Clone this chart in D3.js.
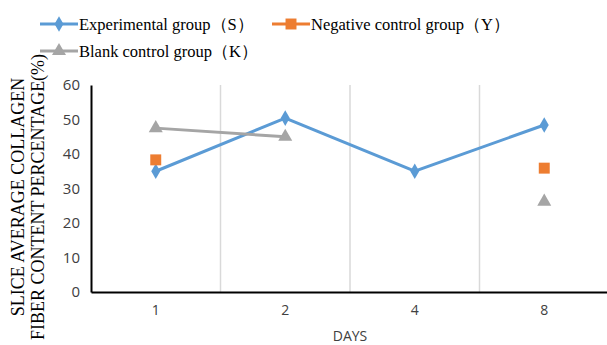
<!DOCTYPE html>
<html>
<head>
<meta charset="utf-8">
<script src="https://cdn.jsdelivr.net/npm/d3@7"></script>
<style>
  body { margin: 0; background: #fff; }
</style>
</head>
<body>
<div id="chart"></div>
<script>
const days = ["1", "2", "4", "8"];
const experimental = [35, 50.4, 35, 48.4];
const negative = [38.3, null, null, 35.9];
const blank = [47.5, 45, null, 26.2];
const yTicks = [0, 10, 20, 30, 40, 50, 60];

const width = 607, height = 345,
      margin = ({top: 85, right: -2, bottom: 53, left: 91});

let svg = d3.select("#chart")
    .append("svg")
    .attr("width", width)
    .attr("height", height);

let x = d3.scaleBand()
    .domain(days)
    .range([margin.left, width - margin.right]);

let y = d3.scaleLinear()
    .domain([0, 60])
    .range([height - margin.bottom, margin.top]);

const sans = "'Open Sans', 'Liberation Sans', sans-serif";
const serif = "'Liberation Serif', 'Times New Roman', serif";

// vertical gridlines between categories
svg.append("g")
    .selectAll("line")
    .data(days.slice(1))
    .join("line")
    .attr("x1", d => x(d))
    .attr("x2", d => x(d))
    .attr("y1", y(60))
    .attr("y2", y(0))
    .attr("stroke", "#d9d9d9")
    .attr("stroke-width", 1.5);

// axes
const yAxis = g => g
    .attr("transform", `translate(${margin.left}, 0)`)
    .call(d3.axisLeft(y).tickValues(yTicks).tickSize(0).tickPadding(11))
    .call(g => g.select(".domain").attr("stroke", "#000").attr("stroke-width", 2))
    .call(g => g.selectAll("text")
        .attr("fill", "#404040")
        .style("font-family", sans)
        .style("font-size", "15px"));

const xAxis = g => g
    .attr("transform", `translate(0, ${y(0)})`)
    .call(d3.axisBottom(x).tickSize(0).tickPadding(13))
    .call(g => g.select(".domain").attr("stroke", "#000").attr("stroke-width", 2))
    .call(g => g.selectAll("text")
        .attr("fill", "#404040")
        .style("font-family", sans)
        .style("font-size", "14px"));

svg.append("g").call(xAxis);
svg.append("g").call(yAxis);

// series
const series = [
  {name: "Experimental group（S）", values: experimental, color: "#5b9bd5", symbol: d3.symbolDiamond, size: 70},
  {name: "Negative control group（Y）", values: negative, color: "#ed7d31", symbol: d3.symbolSquare, size: 120},
  {name: "Blank control group（K）", values: blank, color: "#a5a5a5", symbol: d3.symbolTriangle, size: 85}
];

const cx = d => x(d) + x.bandwidth() / 2;

const line = d3.line()
    .defined(d => d.v != null)
    .x(d => cx(d.day))
    .y(d => y(d.v));

for (let s of series) {
  let pts = days.map((day, i) => ({day: day, v: s.values[i]}));
  svg.append("path")
      .datum(pts)
      .attr("fill", "none")
      .attr("stroke", s.color)
      .attr("stroke-width", 3)
      .attr("d", line);
  svg.append("g")
      .selectAll("path")
      .data(pts.filter(d => d.v != null))
      .join("path")
      .attr("transform", d => `translate(${cx(d.day)}, ${y(d.v)})`)
      .attr("d", d3.symbol(s.symbol, s.size))
      .attr("fill", s.color);
}

// legend
const legendPos = [[40, 24], [272, 24], [40, 51]];
series.forEach((s, i) => {
  let [lx, ly] = legendPos[i];
  let g = svg.append("g").attr("transform", `translate(${lx}, ${ly})`);
  g.append("line")
      .attr("x1", 0).attr("x2", 38)
      .attr("stroke", s.color)
      .attr("stroke-width", 3);
  g.append("path")
      .attr("transform", "translate(19, 0)")
      .attr("d", d3.symbol(s.symbol, s.size))
      .attr("fill", s.color);
  g.append("text")
      .attr("x", 39)
      .attr("y", 6)
      .text(s.name)
      .style("font-family", serif)
      .style("font-size", "16.5px")
      .attr("fill", "#000");
});

// axis titles
svg.append("text")
    .attr("x", 350)
    .attr("y", 341)
    .attr("text-anchor", "middle")
    .text("DAYS")
    .style("font-family", sans)
    .style("font-size", "14px")
    .attr("fill", "#404040");

let yt = svg.append("text")
    .attr("transform", "translate(24, 197) rotate(-90)")
    .attr("text-anchor", "middle")
    .style("font-family", serif)
    .style("font-size", "18px")
    .attr("fill", "#000");
yt.append("tspan").attr("x", 0).attr("dy", 0).text("SLICE AVERAGE COLLAGEN");
yt.append("tspan").attr("x", 0).attr("dy", 20).text("FIBER CONTENT PERCENTAGE(%)");
</script>
</body>
</html>
